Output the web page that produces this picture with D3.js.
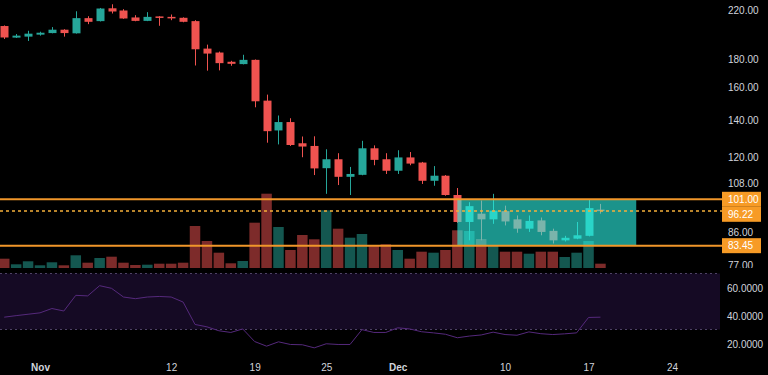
<!DOCTYPE html>
<html lang="en">
<head>
<meta charset="utf-8">
<title>ETH daily candles</title>
<script src="https://d3js.org/d3.v7.min.js"></script>
<style>
  body { margin: 0; background: #000; }
  svg { display: block; font-family: "Liberation Sans", Arial, sans-serif; }
</style>
</head>
<body>
<div id="chart"></div>
<script>

// daily candles, Oct 29 - Dec 18
var dates = ["2018-10-29","2018-10-30","2018-10-31","2018-11-01","2018-11-02","2018-11-03","2018-11-04",
    "2018-11-05","2018-11-06","2018-11-07","2018-11-08","2018-11-09","2018-11-10","2018-11-11",
    "2018-11-12","2018-11-13","2018-11-14","2018-11-15","2018-11-16","2018-11-17","2018-11-18",
    "2018-11-19","2018-11-20","2018-11-21","2018-11-22","2018-11-23","2018-11-24","2018-11-25",
    "2018-11-26","2018-11-27","2018-11-28","2018-11-29","2018-11-30","2018-12-01","2018-12-02",
    "2018-12-03","2018-12-04","2018-12-05","2018-12-06","2018-12-07","2018-12-08","2018-12-09",
    "2018-12-10","2018-12-11","2018-12-12","2018-12-13","2018-12-14","2018-12-15","2018-12-16",
    "2018-12-17","2018-12-18"];

var open = [206.1,196.5,197.3,198.9,200.2,203.0,200.0,212.9,210.3,221.7,219.7,213.5,210.5,214.4,
    214.0,213.2,210.3,187.8,184.8,177.9,176.2,179.3,151.6,134.1,138.8,127.2,125.8,114.8,119.1,
    110.8,111.7,124.6,119.1,113.6,120.0,117.5,109.0,111.3,102.8,92.0,95.2,93.0,96.2,93.0,89.5,
    92.6,88.7,85.3,85.9,86.9,96.8];
var high = [206.6,199.4,202.1,201.3,205.2,203.4,219.0,214.6,222.0,225.4,220.9,215.5,218.2,214.6,
    216.1,213.6,211.1,190.9,185.5,178.6,183.1,179.6,155.4,142.6,141.0,130.8,130.9,124.1,122.1,
    115.4,128.5,126.1,122.1,123.6,122.7,117.8,115.8,111.6,105.8,99.8,100.5,103.3,98.4,94.5,94.5,
    93.7,89.5,86.9,92.0,100.9,99.1];
var low = [195.4,196.2,193.8,198.1,200.0,197.3,199.8,207.7,210.0,217.0,212.3,210.2,210.3,206.3,
    211.1,209.3,175.2,171.5,171.7,175.0,176.0,147.5,127.5,126.6,125.8,120.1,111.6,103.3,107.1,
    102.8,111.5,116.2,112.1,112.1,116.2,107.6,106.8,102.5,91.7,85.3,85.3,91.3,90.7,88.0,88.3,
    87.1,84.2,84.9,85.7,86.7,95.2];
var close = [196.6,198.1,199.7,200.5,203.0,200.2,212.9,209.7,221.5,218.8,212.6,210.5,214.0,213.5,
    212.9,209.7,187.3,184.0,176.9,176.4,179.3,151.2,133.7,138.8,126.3,125.5,114.7,119.1,110.8,
    112.1,124.6,118.8,113.6,120.0,117.0,109.0,111.3,102.8,92.0,98.2,93.0,96.4,92.2,89.5,92.4,
    88.3,85.3,86.2,87.1,97.4,96.22];
var volume = [930,370,670,270,570,270,1270,530,1000,1130,530,300,330,430,430,530,4200,2700,1530,
    470,700,4530,7430,4100,1800,3300,2870,5770,3930,3030,3400,2270,2370,1800,930,1630,1530,1800,
    3770,3700,2900,2200,1630,1630,1430,1630,1630,1100,1530,2700,430];
var rsi = [38.8,39.9,40.9,41.9,45,43.2,54.4,54,61.3,59.4,53.2,52,53.2,53.6,53.2,49.6,33.6,31.9,
    29.1,27.9,30.4,21.4,18.1,21.2,19.3,19.1,16.9,19.8,19.3,19.3,29.9,27.9,27.9,31.2,30.4,28.4,
    27.6,26.6,24.1,25.3,26.1,28.1,26.4,25.9,28.3,27,26.4,26.9,27.6,38.6,38.8];

// horizontal levels and range box
var levels = [101.00, 96.22, 83.45];
var levelDashed = [false, true, false];
var boxDates = ["2018-12-06", "2018-12-21"];
var boxPrices = [101.00, 83.45];

// axis ticks
var priceTicks = [220, 180, 160, 140, 120, 108, 86, 77];
var rsiTicks = [60, 40, 20];
var xTickDates = ["2018-11-01","2018-11-12","2018-11-19","2018-11-25","2018-12-01","2018-12-10","2018-12-17","2018-12-24"];
var xTickLabels = ["Nov","12","19","25","Dec","10","17","24"];

var w = 768, h = 375;
var plotRight = 722;
var paneBottom = 269;
var upColor = "#26a69a", downColor = "#ef5350";

var parseDate = d3.utcParse("%Y-%m-%d");
var data = dates.map(function(d, i) {
    return { date: parseDate(d), o: open[i], h: high[i], l: low[i], c: close[i], v: volume[i], rsi: rsi[i] };
});

var xScale = d3.scaleUtc()
    .domain([parseDate("2018-11-01"), parseDate("2018-12-24")])
    .range([40, 672]);
var yScale = d3.scaleLog().domain([75.5, 229.4]).range([270, 0]);
var volScale = d3.scaleLinear().domain([0, 10000]).range([268, 168]);
var rsiScale = d3.scaleLinear().domain([30, 70]).range([329.5, 273.5]);

var svg = d3.select("#chart").append("svg")
    .attr("width", w)
    .attr("height", h);

svg.append("rect").attr("width", w).attr("height", h).attr("fill", "#000");

var defs = svg.append("defs");
defs.append("clipPath").attr("id", "priceClip")
    .append("rect").attr("x", 0).attr("y", 0).attr("width", w).attr("height", paneBottom - 1);

//Volume bars
svg.append("g")
    .selectAll("rect")
    .data(data)
    .enter()
    .append("rect")
    .attr("x", function(d) { return xScale(d.date) - 5.25; })
    .attr("y", function(d) { return volScale(d.v); })
    .attr("width", 10.5)
    .attr("height", function(d) { return volScale(0) - volScale(d.v); })
    .attr("fill", function(d) { return d.c >= d.o ? upColor : downColor; })
    .attr("opacity", 0.52);

//Candles
var candles = svg.append("g")
    .selectAll("g")
    .data(data)
    .enter()
    .append("g");

candles.append("line")
    .attr("x1", function(d) { return Math.round(xScale(d.date)) + 0.5; })
    .attr("x2", function(d) { return Math.round(xScale(d.date)) + 0.5; })
    .attr("y1", function(d) { return yScale(d.h); })
    .attr("y2", function(d) { return yScale(d.l); })
    .attr("stroke", function(d) { return d.c >= d.o ? upColor : downColor; })
    .attr("stroke-width", 1);

candles.append("rect")
    .attr("x", function(d) { return Math.round(xScale(d.date)) - 3.5; })
    .attr("y", function(d) { return yScale(Math.max(d.o, d.c)); })
    .attr("width", 8)
    .attr("height", function(d) { return Math.max(1.5, yScale(Math.min(d.o, d.c)) - yScale(Math.max(d.o, d.c))); })
    .attr("fill", function(d) { return d.c >= d.o ? upColor : downColor; });

//Range box on top
svg.append("rect")
    .attr("x", xScale(parseDate(boxDates[0])))
    .attr("y", yScale(boxPrices[0]))
    .attr("width", xScale(parseDate(boxDates[1])) - xScale(parseDate(boxDates[0])))
    .attr("height", yScale(boxPrices[1]) - yScale(boxPrices[0]))
    .attr("fill", "rgb(45,245,232)")
    .attr("opacity", 0.6);

//Levels
svg.append("g")
    .selectAll("line")
    .data(levels)
    .enter()
    .append("line")
    .attr("x1", 0)
    .attr("x2", plotRight)
    .attr("y1", function(d) { return yScale(d); })
    .attr("y2", function(d) { return yScale(d); })
    .attr("stroke", function(d, i) { return levelDashed[i] ? "#f5b03a" : "#f0962a"; })
    .attr("stroke-width", function(d, i) { return levelDashed[i] ? 1.5 : 2; })
    .attr("stroke-dasharray", function(d, i) { return levelDashed[i] ? "3,3" : null; });

//Price axis
var yAxis = d3.axisRight(yScale)
    .tickValues(priceTicks)
    .tickFormat(d3.format(".2f"))
    .tickSize(0)
    .tickPadding(0);

svg.append("g")
    .attr("class", "axis")
    .attr("clip-path", "url(#priceClip)")
    .attr("transform", "translate(728,0)")
    .call(yAxis)
    .call(function(g) { g.select(".domain").remove(); })
    .selectAll("text")
    .attr("fill", "#d1d4dc")
    .attr("y", function(d) { return d === 86 ? -6 : 0; })   // keep clear of the 83.45 tag
    .style("font-size", "10px");

//Level labels
var prevBottom = -100;
var labelG = svg.append("g");
levels.forEach(function(v) {
    var top = Math.max(yScale(v) - 7.5, prevBottom);
    prevBottom = top + 15;
    labelG.append("rect")
        .attr("x", 722)
        .attr("y", top)
        .attr("width", 39)
        .attr("height", 15)
        .attr("fill", "#f79b26");
    labelG.append("text")
        .attr("x", 728)
        .attr("y", top + 11)
        .attr("fill", "#fff")
        .style("font-size", "10px")
        .text(d3.format(".2f")(v));
});

//RSI pane
svg.append("rect")
    .attr("x", 0)
    .attr("y", rsiScale(70))
    .attr("width", 720)
    .attr("height", rsiScale(30) - rsiScale(70))
    .attr("fill", "#150a24");

svg.append("g")
    .selectAll("line")
    .data([70, 30])
    .enter()
    .append("line")
    .attr("x1", 0)
    .attr("x2", 720)
    .attr("y1", function(d) { return rsiScale(d); })
    .attr("y2", function(d) { return rsiScale(d); })
    .attr("stroke", "#4e4266")
    .attr("stroke-width", 1)
    .attr("stroke-dasharray", "2,3");

var rsiLine = d3.line()
    .x(function(d) { return xScale(d.date); })
    .y(function(d) { return rsiScale(d.rsi); });

svg.append("path")
    .datum(data)
    .attr("fill", "none")
    .attr("stroke", "#55297c")
    .attr("stroke-width", 1)
    .attr("d", rsiLine);

var rsiAxis = d3.axisRight(rsiScale)
    .tickValues(rsiTicks)
    .tickFormat(d3.format(".4f"))
    .tickSize(0)
    .tickPadding(0);

svg.append("g")
    .attr("transform", "translate(727,1)")
    .call(rsiAxis)
    .call(function(g) { g.select(".domain").remove(); })
    .selectAll("text")
    .attr("fill", "#d1d4dc")
    .style("font-size", "10px");

//Time axis
var xAxis = d3.axisBottom(xScale)
    .tickValues(xTickDates.map(parseDate))
    .tickFormat(function(d, i) { return xTickLabels[i]; })
    .tickSize(0)
    .tickPadding(4);

svg.append("g")
    .attr("transform", "translate(0,360)")
    .call(xAxis)
    .call(function(g) { g.select(".domain").remove(); })
    .selectAll("text")
    .attr("fill", "#d1d4dc")
    .style("font-size", "10px")
    .style("font-weight", function(d, i) { return (xTickLabels[i] === "Nov" || xTickLabels[i] === "Dec") ? "bold" : "normal"; });

</script>
</body>
</html>
